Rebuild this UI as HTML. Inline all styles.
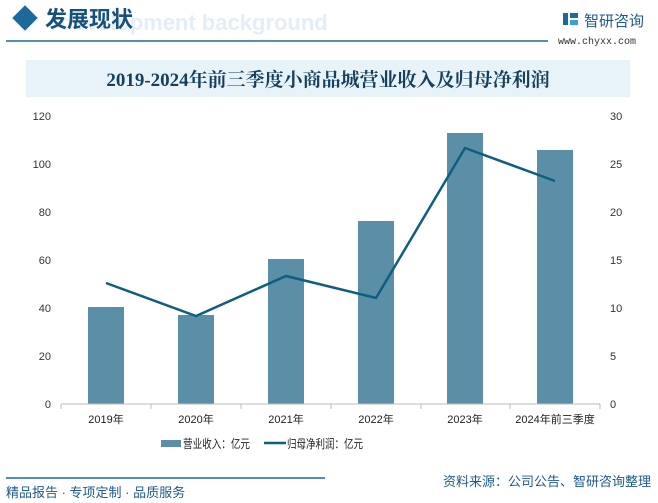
<html><head><style>
body{margin:0;width:658px;height:503px;background:#fff;font-family:"Liberation Sans","Noto Sans CJK SC",sans-serif;overflow:hidden;position:relative}
</style></head><body>
<svg width="658" height="503" style="position:absolute;left:0;top:0">
<text x="60" y="30" font-size="22" font-weight="bold" fill="#e3eef6" font-family="Liberation Sans,sans-serif">development background</text>
<rect x="16" y="9" width="18" height="18" transform="rotate(45 25 18)" fill="#1c6a9a"/>
<text x="45" y="27" font-size="22" font-weight="bold" fill="#17507a" font-family="Noto Sans CJK SC,sans-serif">发展现状</text>
<line x1="6" y1="41" x2="548" y2="41" stroke="#1c6a9a" stroke-width="1.5"/>
<rect x="563" y="13" width="5" height="12" fill="#1c6a9a"/><rect x="570" y="13" width="8" height="5" fill="#1c6a9a"/><rect x="570" y="20" width="8" height="5" fill="#3aa0d8"/>
<text x="584" y="26" font-size="15" fill="#1c5a8a" font-family="Noto Sans CJK SC,sans-serif">智研咨询</text>
<text x="558" y="44" font-size="10" fill="#333" font-family="Liberation Mono,monospace">www.chyxx.com</text>
<rect x="26" y="60" width="604" height="37" fill="#e7f2f9"/>
<text x="328" y="86" font-size="19" font-weight="bold" fill="#17405f" text-anchor="middle" font-family="Liberation Serif,Noto Serif CJK SC,serif">2019-2024年前三季度小商品城营业收入及归母净利润</text>
<g font-size="11" fill="#333">
<text x="51" y="408" text-anchor="end">0</text><text x="51" y="360" text-anchor="end">20</text><text x="51" y="312" text-anchor="end">40</text><text x="51" y="264" text-anchor="end">60</text><text x="51" y="216" text-anchor="end">80</text><text x="51" y="168" text-anchor="end">100</text><text x="51" y="120" text-anchor="end">120</text>
<text x="610" y="408">0</text><text x="610" y="360">5</text><text x="610" y="312">10</text><text x="610" y="264">15</text><text x="610" y="216">20</text><text x="610" y="168">25</text><text x="610" y="120">30</text>
</g>
<g fill="#5b8fa8">
<rect x="88" y="307" width="36" height="97"/><rect x="178" y="315" width="36" height="89"/><rect x="268" y="259" width="36" height="145"/><rect x="358" y="221" width="36" height="183"/><rect x="447" y="133" width="36" height="271"/><rect x="537" y="150" width="36" height="254"/>
</g>
<line x1="61" y1="404" x2="600" y2="404" stroke="#bbb"/>
<g stroke="#bbb"><line x1="61" y1="404" x2="61" y2="409"/><line x1="151" y1="404" x2="151" y2="409"/><line x1="241" y1="404" x2="241" y2="409"/><line x1="331" y1="404" x2="331" y2="409"/><line x1="421" y1="404" x2="421" y2="409"/><line x1="510" y1="404" x2="510" y2="409"/><line x1="600" y1="404" x2="600" y2="409"/></g>
<polyline points="106,283 196,316 286,276 376,298 465,148 555,181" fill="none" stroke="#0e5f7f" stroke-width="2.5"/>
<g font-size="11" fill="#222" text-anchor="middle">
<text x="106" y="423">2019年</text><text x="196" y="423">2020年</text><text x="286" y="423">2021年</text><text x="376" y="423">2022年</text><text x="465" y="423">2023年</text><text x="555" y="423">2024年前三季度</text>
</g>
<rect x="161" y="440" width="20" height="7" fill="#5b8fa8"/>
<text x="183" y="448" font-size="12" fill="#222" textLength="67" lengthAdjust="spacingAndGlyphs">营业收入：亿元</text>
<line x1="264" y1="443" x2="286" y2="443" stroke="#0e5f7f" stroke-width="2.5"/>
<text x="287" y="448" font-size="12" fill="#222" textLength="76" lengthAdjust="spacingAndGlyphs">归母净利润：亿元</text>
<line x1="6" y1="478" x2="325" y2="478" stroke="#1c6a9a" stroke-width="1.5"/>
<text x="651" y="486" font-size="13" fill="#1c5a8a" text-anchor="end">资料来源：公司公告、智研咨询整理</text>
<text x="6" y="497" font-size="13" fill="#1c5a8a">精品报告 · 专项定制 · 品质服务</text>
</svg>
</body></html>
